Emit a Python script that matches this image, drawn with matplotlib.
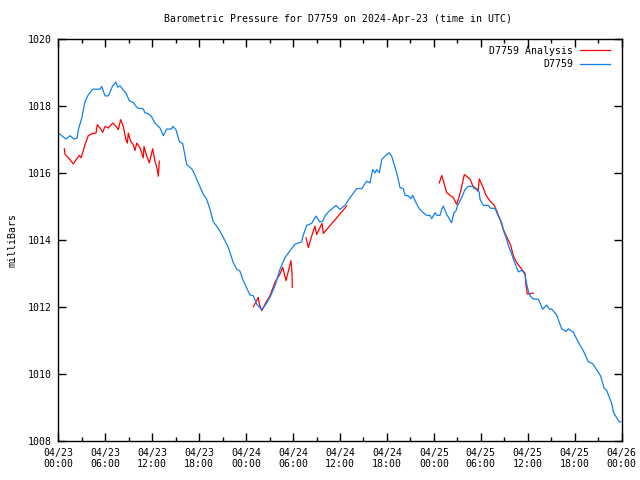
import matplotlib
matplotlib.use("Agg")
import matplotlib.pyplot as plt
from matplotlib.ticker import MultipleLocator

# hours since 2024-04-23 00:00 UTC
obs_h = [0, 0.98, 1.5, 2.0, 2.4, 2.56, 3.0, 3.41, 3.83, 4.4, 5.33, 5.55, 5.97, 6.39, 6.95, 7.37,
         7.59, 7.88, 8.3, 8.65, 9.07, 9.58, 10.1, 10.86, 11.08, 11.5, 11.94, 12.36, 12.78, 13.0,
         13.42, 13.85, 14.49, 14.62, 15.04, 15.46, 15.9, 16.41, 17.05, 17.34, 17.89, 18.53, 18.96,
         19.39, 19.8, 20.45, 21.09, 21.73, 22.36, 22.8, 23.2, 23.64, 24.5, 24.92, 25.35, 26.0,
         26.4, 27.05, 27.7, 28.33, 28.97, 29.6, 30.25, 31.1, 31.3, 31.74, 32.38, 32.93, 33.44,
         33.8, 34.08, 34.5, 35.49, 36.0, 36.64, 37.19, 38.13, 38.77, 39.41, 39.83, 40.18, 40.47,
         40.69, 41.03, 41.33, 41.97, 42.3, 42.6, 43.25, 43.67, 44.09, 44.31, 44.73, 45.07, 45.29,
         45.71, 46.13, 46.64, 47.08, 47.5, 47.72, 48.14, 48.43, 48.78, 49.0, 49.2, 49.64, 50.27,
         50.57, 50.82, 50.99, 51.55, 51.97, 52.4, 52.96, 53.13, 53.55, 53.8, 53.89, 54.31, 54.95,
         55.26, 55.8, 56.23, 56.66, 56.96, 57.3, 57.5, 57.94, 58.36, 58.79, 59.22, 59.64, 59.77,
         60.06, 60.28, 60.7, 61.34, 61.9, 62.41, 62.75, 63.05, 63.7, 64.33, 64.88, 65.18, 65.82,
         66.45, 67.09, 67.73, 68.29, 69.0, 69.31, 69.74, 70.08, 70.5, 70.72, 70.93, 71.36, 71.7,
         71.87]
obs_p = [1017.2, 1017.02, 1017.12, 1017.02, 1017.05, 1017.3, 1017.65, 1018.14, 1018.34, 1018.51,
         1018.51, 1018.59, 1018.31, 1018.31, 1018.61, 1018.72, 1018.57, 1018.61, 1018.49, 1018.39,
         1018.17, 1018.11, 1017.95, 1017.92, 1017.8, 1017.78, 1017.68, 1017.5, 1017.4, 1017.35,
         1017.12, 1017.32, 1017.32, 1017.4, 1017.3, 1016.95, 1016.88, 1016.26, 1016.13, 1016.01,
         1015.71, 1015.37, 1015.22, 1014.92, 1014.55, 1014.35, 1014.08, 1013.78, 1013.33, 1013.13,
         1013.08, 1012.79, 1012.36, 1012.34, 1012.09, 1011.92, 1012.04, 1012.29, 1012.64, 1013.13,
         1013.48, 1013.68, 1013.88, 1013.95, 1014.15, 1014.44, 1014.5, 1014.72, 1014.54, 1014.57,
         1014.72, 1014.84, 1015.04, 1014.92, 1015.04, 1015.24, 1015.54, 1015.54, 1015.76, 1015.71,
         1016.11, 1016.01, 1016.11, 1016.01, 1016.41, 1016.56, 1016.61, 1016.51, 1016.01, 1015.57,
         1015.54, 1015.34, 1015.32, 1015.24, 1015.34, 1015.12, 1014.94, 1014.82, 1014.74, 1014.74,
         1014.64, 1014.82, 1014.74, 1014.74, 1014.92, 1015.02, 1014.77, 1014.52, 1014.82, 1014.87,
         1015.02, 1015.27, 1015.51, 1015.61, 1015.61, 1015.54, 1015.54, 1015.42, 1015.22, 1015.04,
         1015.04, 1014.95, 1014.95, 1014.72, 1014.52, 1014.24, 1014.03, 1013.85, 1013.58, 1013.31,
         1013.05, 1013.1, 1012.98, 1012.79, 1012.49, 1012.34, 1012.24, 1012.24, 1011.94, 1012.06,
         1011.94, 1011.94, 1011.76, 1011.35, 1011.27, 1011.35, 1011.25, 1010.95, 1010.7, 1010.37,
         1010.31, 1010.06, 1009.94, 1009.58, 1009.51, 1009.26, 1009.12, 1008.87, 1008.69, 1008.57,
         1008.57]

# analysis segments (gaps separate them)
ana1_h = [0.77, 0.86, 1.28, 1.92, 2.35, 2.68, 2.9, 3.12, 3.41, 3.83, 4.27, 4.82, 4.98, 5.33, 5.67,
          5.97, 6.39, 6.95, 7.37, 7.67, 7.97, 8.3, 8.65, 8.82, 8.95, 9.25, 9.58, 9.8, 10.02, 10.44,
          10.86, 10.95, 11.3, 11.63, 12.06, 12.36, 12.65, 12.78, 12.91]
ana1_p = [1016.73, 1016.56, 1016.46, 1016.28, 1016.43, 1016.53, 1016.46, 1016.61, 1016.85, 1017.12,
          1017.18, 1017.2, 1017.45, 1017.35, 1017.22, 1017.4, 1017.35, 1017.5, 1017.4, 1017.3,
          1017.6, 1017.4, 1017.0, 1016.9, 1017.2, 1016.95, 1016.85, 1016.68, 1016.9, 1016.76,
          1016.46, 1016.8, 1016.51, 1016.31, 1016.73, 1016.36, 1016.11, 1015.91, 1016.36]
ana2_h = [24.92, 25.56, 25.69, 26.0, 26.54, 27.05, 27.69, 28.33, 28.68, 29.1, 29.52, 29.74, 29.87, 29.9]
ana2_p = [1012.01, 1012.29, 1012.09, 1011.89, 1012.14, 1012.34, 1012.74, 1012.99, 1013.19, 1012.79,
          1013.19, 1013.39, 1012.99, 1012.59]
ana3_h = [31.65, 31.95, 32.38, 32.8, 33.02, 33.44, 33.7, 33.87, 36.86]
ana3_p = [1014.07, 1013.78, 1014.12, 1014.42, 1014.17, 1014.37, 1014.5, 1014.2, 1015.02]
ana4_h = [48.69, 49.0, 49.64, 50.06, 50.48, 50.9, 51.12, 51.42, 51.89, 52.61, 52.96, 53.67, 53.8,
          54.31, 54.66, 55.17, 55.72, 56.03, 56.45, 56.87, 57.3, 57.81, 58.15, 58.58, 59.22, 59.64,
          59.77, 59.94, 60.7]
ana4_p = [1015.71, 1015.93, 1015.42, 1015.34, 1015.27, 1015.07, 1015.22, 1015.46, 1015.96, 1015.83,
          1015.63, 1015.46, 1015.83, 1015.56, 1015.34, 1015.17, 1015.04, 1014.87, 1014.62, 1014.32,
          1014.1, 1013.85, 1013.53, 1013.33, 1013.13, 1013.01, 1012.64, 1012.39, 1012.42]

tick_hours = [0, 6, 12, 18, 24, 30, 36, 42, 48, 54, 60, 66, 72]
tick_labels = ["04/23\n00:00", "04/23\n06:00", "04/23\n12:00", "04/23\n18:00",
               "04/24\n00:00", "04/24\n06:00", "04/24\n12:00", "04/24\n18:00",
               "04/25\n00:00", "04/25\n06:00", "04/25\n12:00", "04/25\n18:00",
               "04/26\n00:00"]
y_ticks = [1008, 1010, 1012, 1014, 1016, 1018, 1020]

RED = "#ff0000"
BLUE = "#1080f0"
FONT = "DejaVu Sans Mono"
FS = 7.1

fig = plt.figure(figsize=(6.4, 4.8), dpi=100)
ax = fig.add_axes([58.3 / 640, 1 - 441 / 480, (621.7 - 58.3) / 640, (441 - 39.3) / 480])

first = True
for h, p in [(ana1_h, ana1_p), (ana2_h, ana2_p), (ana3_h, ana3_p), (ana4_h, ana4_p)]:
    ax.plot(h, p, color=RED, lw=0.9, label="D7759 Analysis" if first else None)
    first = False
ax.plot(obs_h, obs_p, color=BLUE, lw=0.9, label="D7759")

ax.set_xlim(0, 72)
ax.set_ylim(1008, 1020)
ax.set_xticks(tick_hours)
ax.set_xticklabels(tick_labels, fontfamily=FONT, fontsize=FS, linespacing=1.1)
ax.xaxis.set_minor_locator(MultipleLocator(3))
ax.set_yticks(y_ticks)
ax.set_yticklabels([str(v) for v in y_ticks], fontfamily=FONT, fontsize=FS)
ax.tick_params(which="both", direction="in", top=True, right=True, width=1)
ax.tick_params(which="major", length=6)
ax.tick_params(axis="x", which="major", pad=5)
ax.tick_params(axis="y", which="major", pad=5)
ax.tick_params(which="minor", length=3)
for s in ax.spines.values():
    s.set_linewidth(1)

ax.set_ylabel("milliBars", fontfamily=FONT, fontsize=FS, labelpad=7)
fig.text(337.5 / 640, 1 - 19.5 / 480, "Barometric Pressure for D7759 on 2024-Apr-23 (time in UTC)",
         ha="center", va="center", fontfamily=FONT, fontsize=FS)

leg = ax.legend(loc="upper right", frameon=False, prop={"family": FONT, "size": FS},
                markerfirst=False, handlelength=3.0, borderaxespad=0.25, labelspacing=0.35,
                handletextpad=0.7, bbox_to_anchor=(0.99, 1.0))
for t in leg.get_texts():
    t.set_ha("right")
leg._legend_box.align = "right"

fig.savefig("out.png", dpi=100)
